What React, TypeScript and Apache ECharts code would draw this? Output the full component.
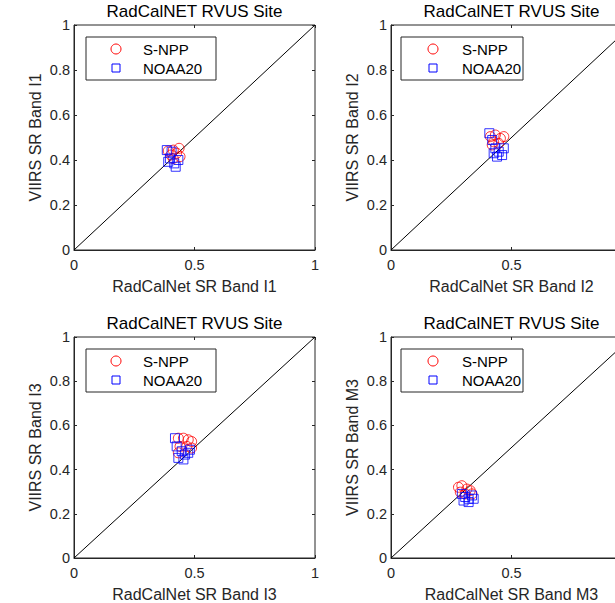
import React, { useEffect, useRef } from "react";
import * as echarts from "echarts";

const titleText = "RadCalNET RVUS Site";
const seriesNames = ["S-NPP", "NOAA20"];
const xNames = ["RadCalNet SR Band I1", "RadCalNet SR Band I2", "RadCalNet SR Band I3", "RadCalNet SR Band M3"];
const yNames = ["VIIRS SR Band I1", "VIIRS SR Band I2", "VIIRS SR Band I3", "VIIRS SR Band M3"];

const snppI1 = [[0.391, 0.44], [0.412, 0.444], [0.436, 0.452], [0.402, 0.422], [0.426, 0.43], [0.44, 0.415], [0.412, 0.407]];
const noaaI1 = [[0.385, 0.444], [0.398, 0.407], [0.416, 0.385], [0.433, 0.4], [0.422, 0.37], [0.405, 0.437], [0.391, 0.392]];
const snppI2 = [[0.4125, 0.504], [0.433, 0.511], [0.454, 0.496], [0.468, 0.504], [0.426, 0.481], [0.447, 0.474], [0.42, 0.467]];
const noaaI2 = [[0.408, 0.519], [0.42, 0.489], [0.433, 0.452], [0.447, 0.437], [0.461, 0.422], [0.44, 0.415], [0.426, 0.43], [0.468, 0.452]];
const snppI3 = [[0.433, 0.542], [0.454, 0.542], [0.474, 0.535], [0.488, 0.527], [0.44, 0.505], [0.468, 0.505], [0.488, 0.498], [0.433, 0.476]];
const noaaI3 = [[0.419, 0.542], [0.426, 0.505], [0.447, 0.483], [0.461, 0.468], [0.474, 0.476], [0.454, 0.446], [0.433, 0.453], [0.481, 0.49]];
const snppM3 = [[0.28, 0.32], [0.294, 0.327], [0.315, 0.312], [0.329, 0.305], [0.2875, 0.298], [0.308, 0.29], [0.336, 0.29]];
const noaaM3 = [[0.294, 0.29], [0.308, 0.276], [0.322, 0.268], [0.336, 0.283], [0.301, 0.26], [0.322, 0.253], [0.343, 0.268]];
const diagonal = [[0, 0], [1, 1]];

const snppData = [snppI1, snppI2, snppI3, snppM3];
const noaaData = [noaaI1, noaaI2, noaaI3, noaaM3];

const FONT = "Liberation Sans, Arial, sans-serif";
const panels = [
  { left: 74, top: 25, lgx: 12, lgw: 130, mk: 30, tx: 57, right: false },
  { left: 391, top: 25, lgx: 10, lgw: 122, mk: 32, tx: 61, right: true },
  { left: 74, top: 337, lgx: 12, lgw: 130, mk: 30, tx: 57, right: false },
  { left: 391, top: 337, lgx: 10, lgw: 122, mk: 32, tx: 61, right: true },
];
const PW = 241;
const PH = 225;

export default function App() {
  const ref = useRef<HTMLDivElement>(null);
  useEffect(() => {
    if (!ref.current) return;
    const chart = echarts.init(ref.current, null, { renderer: "svg" });
    const grid: any[] = [];
    const xAxis: any[] = [];
    const yAxis: any[] = [];
    const series: any[] = [];
    const graphic: any[] = [];
    const mirrorX: any[] = [];
    const mirrorY: any[] = [];
    panels.forEach((p, i) => {
      grid.push({
        left: p.left,
        top: p.top,
        width: PW,
        height: PH,
        show: true,
        borderColor: "#262626",
        borderWidth: 1,
        backgroundColor: "#fff",
      });
      const axisCommon = {
        gridIndex: i,
        min: 0,
        max: 1,
        nameLocation: "middle",
        nameTextStyle: { fontFamily: FONT, fontSize: 16, color: "#262626" },
        axisLine: { show: true, onZero: false, lineStyle: { color: "#262626", width: 1 } },
        axisTick: { show: true, inside: true, length: 3, lineStyle: { color: "#262626" } },
        axisLabel: { fontFamily: FONT, fontSize: 14.5, color: "#262626" },
        splitLine: { show: false },
      };
      xAxis.push({
        ...axisCommon,
        type: "value",
        position: "bottom",
        interval: 0.5,
        name: xNames[i],
        nameGap: 28,
        axisLabel: { ...axisCommon.axisLabel, margin: 7, showMaxLabel: !p.right },
      });
      yAxis.push({
        ...axisCommon,
        type: "value",
        position: "left",
        interval: 0.2,
        name: yNames[i],
        nameGap: 31,
        axisLabel: { ...axisCommon.axisLabel, margin: 4, formatter: (v: number) => String(Math.round(v * 10) / 10) },
      });
      mirrorX.push({
        type: "value",
        gridIndex: i,
        position: "top",
        min: 0,
        max: 1,
        interval: 0.5,
        axisLine: { show: false, onZero: false },
        axisTick: { show: true, inside: true, length: 3, lineStyle: { color: "#262626" } },
        axisLabel: { show: false },
        splitLine: { show: false },
      });
      mirrorY.push({
        type: "value",
        gridIndex: i,
        position: "right",
        min: 0,
        max: 1,
        interval: 0.2,
        axisLine: { show: false, onZero: false },
        axisTick: { show: true, inside: true, length: 3, lineStyle: { color: "#262626" } },
        axisLabel: { show: false },
        splitLine: { show: false },
      });
      series.push({
        type: "line",
        xAxisIndex: i,
        yAxisIndex: i,
        data: diagonal,
        symbol: "none",
        silent: true,
        lineStyle: { color: "#000", width: 1 },
        z: 1,
      });
      series.push({
        type: "scatter",
        name: seriesNames[0],
        xAxisIndex: i,
        yAxisIndex: i,
        data: snppData[i],
        symbol: "circle",
        symbolSize: 10,
        itemStyle: { color: "transparent", borderColor: "#ff0000", borderWidth: 1 },
        z: 3,
      });
      series.push({
        type: "scatter",
        name: seriesNames[1],
        xAxisIndex: i,
        yAxisIndex: i,
        data: noaaData[i],
        symbol: "rect",
        symbolSize: 9,
        itemStyle: { color: "transparent", borderColor: "#0000ff", borderWidth: 1 },
        z: 4,
      });
      graphic.push({
        type: "text",
        x: p.left + PW / 2,
        y: p.top - 22,
        style: {
          text: titleText,
          fontFamily: FONT,
          fontSize: 17,
          fill: "#000",
          textAlign: "center",
          textVerticalAlign: "top",
        },
        z: 10,
      });
      const lx = p.left + p.lgx;
      const ly = p.top + 12;
      graphic.push({
        type: "rect",
        shape: { x: lx, y: ly, width: p.lgw, height: 43 },
        style: { fill: "#fff", stroke: "#262626", lineWidth: 1 },
        z: 10,
      });
      graphic.push({
        type: "circle",
        shape: { cx: lx + p.mk, cy: ly + 12, r: 5 },
        style: { fill: "none", stroke: "#ff0000", lineWidth: 1 },
        z: 11,
      });
      graphic.push({
        type: "rect",
        shape: { x: lx + p.mk - 4, y: ly + 27, width: 8, height: 8 },
        style: { fill: "none", stroke: "#0000ff", lineWidth: 1 },
        z: 11,
      });
      graphic.push({
        type: "text",
        x: lx + p.tx,
        y: ly + 12,
        style: { text: seriesNames[0], fontFamily: FONT, fontSize: 15, fill: "#000", textVerticalAlign: "middle" },
        z: 11,
      });
      graphic.push({
        type: "text",
        x: lx + p.tx,
        y: ly + 31,
        style: { text: seriesNames[1], fontFamily: FONT, fontSize: 15, fill: "#000", textVerticalAlign: "middle" },
        z: 11,
      });
    });
    chart.setOption({
      animation: false,
      backgroundColor: "#fff",
      grid,
      xAxis: [...xAxis, ...mirrorX],
      yAxis: [...yAxis, ...mirrorY],
      series,
      graphic,
    });
    return () => chart.dispose();
  }, []);
  return (
    <div style={{ position: "absolute", left: 0, top: 0, width: 615, height: 603, overflow: "hidden", background: "#fff" }}>
      <div ref={ref} style={{ width: 680, height: 603 }} />
    </div>
  );
}
